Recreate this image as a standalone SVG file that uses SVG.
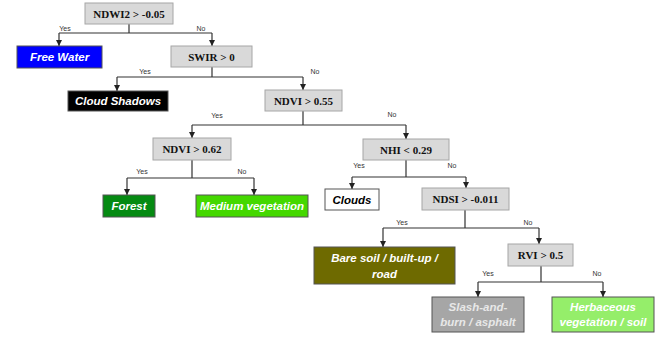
<svg xmlns="http://www.w3.org/2000/svg" width="662" height="337" viewBox="0 0 662 337">
<style>
.dec{fill:#d9d9d9;stroke:#a6a6a6;stroke-width:1}
.dt{font-family:"Liberation Serif",serif;font-weight:bold;font-size:11px;fill:#111;text-anchor:middle}
.leaf{stroke:#555;stroke-width:1}
.lt{font-family:"Liberation Sans",Arial,sans-serif;font-weight:bold;font-style:italic;font-size:11.5px;text-anchor:middle}
.yn{font-family:"Liberation Sans",Arial,sans-serif;font-size:7px;fill:#333;text-anchor:middle}
.con{fill:none;stroke:#333;stroke-width:1.2}
</style>
<defs>
<marker id="ah" viewBox="0 0 10 10" refX="10" refY="5" markerWidth="5" markerHeight="5" orient="auto">
<path d="M0,0 L10,5 L0,10 z" fill="#222"/>
</marker>
</defs>
<rect width="662" height="337" fill="#fff"/>
<g id="connectors">
<path class="con" d="M129,24 V33 M59,33 H212"/>
<path class="con" d="M59,33 V46" marker-end="url(#ah)"/>
<path class="con" d="M212,33 V46" marker-end="url(#ah)"/>
<path class="con" d="M212,67 V77 M117,77 H303"/>
<path class="con" d="M117,77 V91" marker-end="url(#ah)"/>
<path class="con" d="M303,77 V90" marker-end="url(#ah)"/>
<path class="con" d="M303,111 V125 M192,125 H406"/>
<path class="con" d="M192,125 V138" marker-end="url(#ah)"/>
<path class="con" d="M406,125 V139" marker-end="url(#ah)"/>
<path class="con" d="M192,160 V178 M127,178 H254"/>
<path class="con" d="M127,178 V195" marker-end="url(#ah)"/>
<path class="con" d="M254,178 V195" marker-end="url(#ah)"/>
<path class="con" d="M406,160 V177 M352,177 H466"/>
<path class="con" d="M352,177 V189" marker-end="url(#ah)"/>
<path class="con" d="M466,177 V188" marker-end="url(#ah)"/>
<path class="con" d="M465,210 V228 M383,228 H539"/>
<path class="con" d="M383,228 V247" marker-end="url(#ah)"/>
<path class="con" d="M539,228 V244" marker-end="url(#ah)"/>
<path class="con" d="M541,266 V282 M478,282 H603"/>
<path class="con" d="M478,282 V297" marker-end="url(#ah)"/>
<path class="con" d="M603,282 V297" marker-end="url(#ah)"/>
<text class="yn" x="65" y="31">Yes</text>
<text class="yn" x="201" y="31">No</text>
<text class="yn" x="145" y="74">Yes</text>
<text class="yn" x="315" y="74">No</text>
<text class="yn" x="217" y="118">Yes</text>
<text class="yn" x="392" y="117">No</text>
<text class="yn" x="142" y="174">Yes</text>
<text class="yn" x="242" y="174">No</text>
<text class="yn" x="359" y="168">Yes</text>
<text class="yn" x="452" y="168">No</text>
<text class="yn" x="402" y="225">Yes</text>
<text class="yn" x="528" y="225">No</text>
<text class="yn" x="488" y="276">Yes</text>
<text class="yn" x="597" y="276">No</text>
</g>
<g id="n-ndwi2"><rect class="dec" x="85" y="3" width="88" height="21"/><text class="dt" x="129" y="17.5">NDWI2 &gt; -0.05</text></g>
<g id="n-freewater"><rect class="leaf" x="17" y="46" width="85" height="22" fill="#0000ff"/><text class="lt" x="59.5" y="61" fill="#fff">Free Water</text></g>
<g id="n-swir"><rect class="dec" x="171" y="46" width="81" height="21"/><text class="dt" x="211.5" y="60.5">SWIR &gt; 0</text></g>
<g id="n-cloudshadows"><rect class="leaf" x="68" y="91" width="100" height="20" fill="#000"/><text class="lt" x="118" y="105" fill="#fff">Cloud Shadows</text></g>
<g id="n-ndvi055"><rect class="dec" x="265" y="90" width="77" height="21"/><text class="dt" x="303.5" y="104.5">NDVI &gt; 0.55</text></g>
<g id="n-ndvi062"><rect class="dec" x="153" y="138" width="78" height="22"/><text class="dt" x="192" y="153">NDVI &gt; 0.62</text></g>
<g id="n-forest"><rect class="leaf" x="103" y="195" width="52" height="22" fill="#058a12"/><text class="lt" x="129" y="210" fill="#fff">Forest</text></g>
<g id="n-medveg"><rect class="leaf" x="196" y="195" width="112" height="22" fill="#44d800"/><text class="lt" x="252" y="210" fill="#fff">Medium vegetation</text></g>
<g id="n-nhi"><rect class="dec" x="363" y="139" width="86" height="21"/><text class="dt" x="406" y="153.5">NHI &lt; 0.29</text></g>
<g id="n-clouds"><rect class="leaf" x="325" y="189" width="54" height="21" fill="#fff"/><text class="lt" x="352" y="203.5" fill="#000">Clouds</text></g>
<g id="n-ndsi"><rect class="dec" x="422" y="188" width="87" height="22"/><text class="dt" x="465.5" y="203">NDSI &gt; -0.011</text></g>
<g id="n-baresoil"><rect class="leaf" x="314" y="247" width="141" height="37" fill="#6e6a00"/><text class="lt" x="384.5" y="262" fill="#fff">Bare soil / built-up /</text><text class="lt" x="384.5" y="278" fill="#fff">road</text></g>
<g id="n-rvi"><rect class="dec" x="508" y="244" width="65" height="22"/><text class="dt" x="540.5" y="259">RVI &gt; 0.5</text></g>
<g id="n-slash"><rect class="leaf" x="432" y="297" width="92" height="35" fill="#a6a6a6"/><text class="lt" x="478" y="311" fill="#e8e8e8">Slash-and-</text><text class="lt" x="478" y="326" fill="#e8e8e8">burn / asphalt</text></g>
<g id="n-herb"><rect class="leaf" x="552" y="297" width="102" height="35" fill="#95ee6a"/><text class="lt" x="603" y="311" fill="#fff">Herbaceous</text><text class="lt" x="603" y="326" fill="#fff">vegetation / soil</text></g>
</svg>
